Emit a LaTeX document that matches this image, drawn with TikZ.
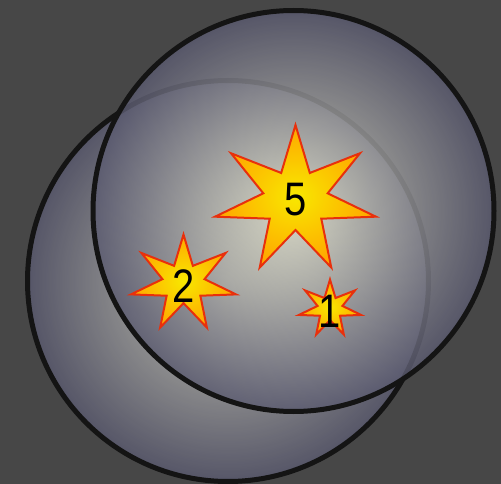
\documentclass[tikz,border=0pt]{standalone}
\usepackage{fontspec}
\setmainfont{Liberation Sans}
\usetikzlibrary{shapes.geometric}
\definecolor{backdrop}{HTML}{474747}
\definecolor{orbcore}{HTML}{E6E6D0}
\definecolor{orbrim}{HTML}{5A5A70}
\definecolor{flarecore}{HTML}{F8E800}
\definecolor{flarerim}{HTML}{FFA600}
\definecolor{flareline}{HTML}{E8300C}
\tikzset{
  orb/.style={
    circle,
    draw=black!92,
    line width=5pt,
    shading=radial,
    inner color=orbcore,
    outer color=orbrim,
    fill opacity=0.8,
    minimum size=401pt,
    inner sep=0pt
  },
  flare/.style={
    star,
    star points=7,
    star point ratio=2.5,
    draw=flareline,
    line width=2pt,
    shading=radial,
    inner color=flarecore,
    outer color=flarerim,
    inner sep=0pt,
    xscale=1.1,
    transform shape
  },
  count/.style={
    font=\fontsize{47}{47}\selectfont,
    inner sep=0pt,
    xscale=0.85,
    transform shape
  }
}

\begin{document}
\begin{tikzpicture}[x=1pt,y=-1pt]
\fill[backdrop] (0,0) rectangle (501,484);
\useasboundingbox (0,0) rectangle (501,484);
\node[orb] (lower) at (228,281) {};
\node[orb] (upper) at (293.5,211) {};
\node[flare,minimum size=150pt] (big) at (295.5,200) {};
\node[flare,minimum size=98pt] (mid) at (183.5,283.5) {};
\node[flare,minimum size=58pt] (small) at (330,308.5) {};
\node[count] (five) at (big) {5};
\node[count] (two) at ([yshift=-3pt]mid.center) {2};
\node[count] (one) at ([yshift=-3pt]small.center) {1};
\end{tikzpicture}
\end{document}
